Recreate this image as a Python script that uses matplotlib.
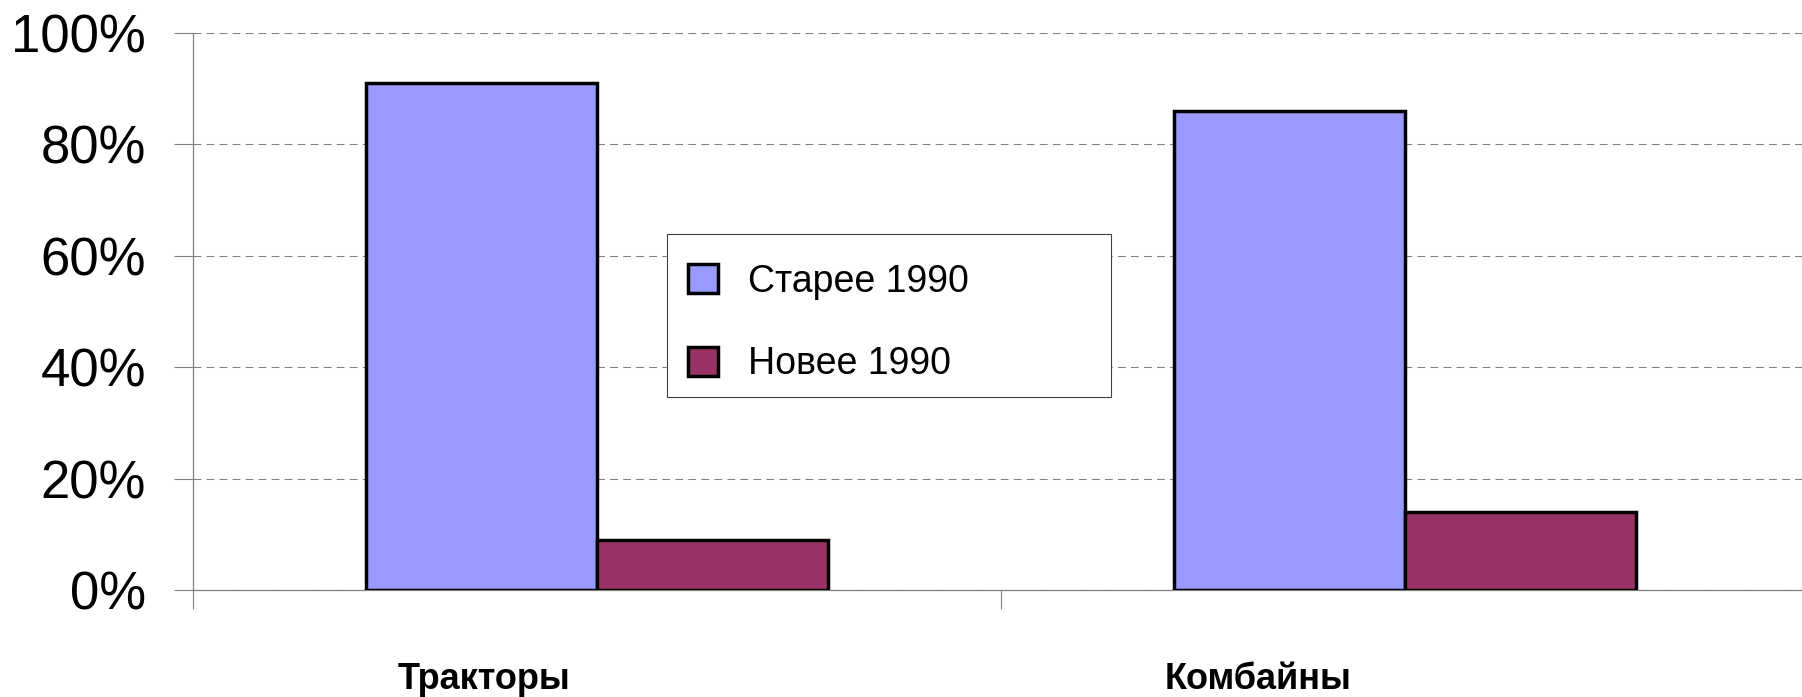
import matplotlib
matplotlib.use('Agg')
import matplotlib.pyplot as plt
import numpy as np
from matplotlib.patches import Rectangle
from matplotlib.ticker import PercentFormatter

# Доли техники по году выпуска
categorias = ['Тракторы', 'Комбайны']
series = ['Старее 1990', 'Новее 1990']
старее = [91, 86]
новее = [9, 14]

cores = {'Старее 1990': '#9999FF', 'Новее 1990': '#993366'}

plt.rcParams['font.family'] = ['Liberation Sans', 'DejaVu Sans']

fig = plt.figure(figsize=(18.02, 6.97), dpi=100)
ax = fig.add_axes([193 / 1802, 107 / 697, 1616 / 1802, 557 / 697])

x = np.arange(len(categorias))
largura = 1 / 3.5  # gap width 150%
valores = {'Старее 1990': старее, 'Новее 1990': новее}
for i, s in enumerate(series):
    ax.bar(x + (i - 0.5) * largura, valores[s], width=largura,
           color=cores[s], edgecolor='black', linewidth=2.5, label=s, zorder=3)

ax.set_ylim(0, 100)
ax.set_xlim(-0.5, len(categorias) - 0.5)
ax.yaxis.set_major_formatter(PercentFormatter(decimals=0))
ax.set_yticks(range(0, 101, 20))
ax.tick_params(axis='y', direction='out', length=13.7, width=0.8, color='#808080',
               labelsize=38, pad=20)

# marcas nas fronteiras das categorias, rótulos deslocados como no original
ax.set_xticks(np.arange(len(categorias) + 1) - 0.5)
ax.set_xticklabels([])
ax.tick_params(axis='x', which='major', direction='out', length=13.7, width=0.8,
               color='#808080')
ax.set_xticks(x + np.array([-0.14, -0.182]), minor=True)
ax.set_xticklabels(categorias, minor=True, fontsize=26, fontweight='bold')
ax.tick_params(axis='x', which='minor', length=0, pad=51.5)

ax.yaxis.grid(True, color='#808080', linewidth=0.75, linestyle=(0, (7.5, 5)))
ax.set_axisbelow(True)

for lado in ['top', 'right']:
    ax.spines[lado].set_visible(False)
for lado in ['left', 'bottom']:
    ax.spines[lado].set_color('#808080')
    ax.spines[lado].set_linewidth(0.9)

# caixa da legenda desenhada à parte, texto um pouco mais abaixo como no original
caixa = Rectangle((667 / 1802, 1 - 397 / 697), 444 / 1802, 163 / 697,
                  transform=fig.transFigure, facecolor='white', edgecolor='#404040',
                  linewidth=0.8, zorder=4)
fig.patches.append(caixa)

topo = 1 - 243 / 697
leg = fig.legend(loc='upper left', bbox_to_anchor=(667 / 1802, topo - 0.001, 444 / 1802, 0.001),
                 mode='expand', fontsize=27, frameon=False,
                 borderpad=0.55, labelspacing=1.25,
                 handlelength=0.8, handleheight=0.8, handletextpad=0.8, borderaxespad=0)
leg.set_zorder(5)

plt.savefig('out.png', dpi=100)
